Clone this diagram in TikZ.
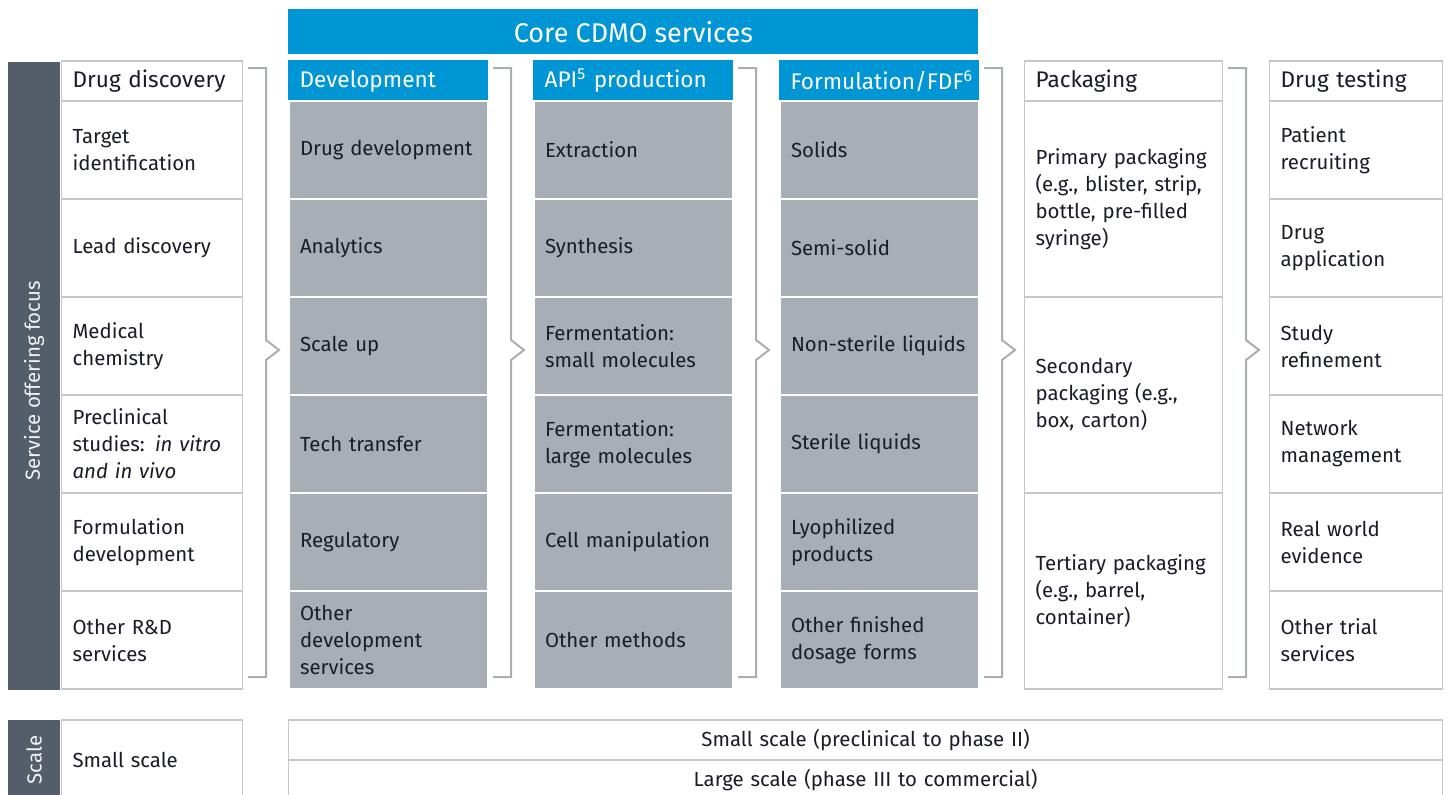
\documentclass[tikz,border=0pt]{standalone}
\usepackage{fontspec}
\setmainfont{Fira Sans}
\usetikzlibrary{positioning}

\definecolor{eyblue}{HTML}{0096D6}
\definecolor{coregray}{HTML}{A8AEB5}
\definecolor{barslate}{HTML}{545E6A}
\definecolor{linegray}{HTML}{C4C8CC}
\definecolor{bracketgray}{HTML}{A9AEB3}
\definecolor{ink}{HTML}{1A1C28}

\hyphenpenalty=10000
\exhyphenpenalty=10000

\newcommand\bodyfont{\fontsize{10.2pt}{13.5pt}\selectfont}
\newcommand\headfont{\fontsize{11.3pt}{14pt}\selectfont}

\tikzset{
  cell/.style={draw=linegray, line width=0.6pt, fill=white, text=ink,
    anchor=west, align=left, inner xsep=5.5pt, inner ysep=0pt,
    minimum height=49pt, font=\bodyfont},
  core cell/.style={cell, fill=coregray, draw=white, line width=1pt},
  head cell/.style={cell, minimum height=20pt, font=\headfont},
  core head/.style={head cell, fill=eyblue, draw=eyblue, text=white},
  sidebar/.style={fill=barslate, text=white!92!barslate, inner sep=0pt,
    minimum height=26pt, rotate=90, font=\bodyfont},
  bracket/.style={draw=bracketgray, line width=1pt},
}

\begin{document}
\begin{tikzpicture}[x=0.5pt, y=-0.5pt]

  \useasboundingbox (0,0) rectangle (1451,794);
  \clip (0,0) rectangle (1451,794);

  % Side bars
  \node[sidebar, minimum width=314pt] (focus) at (34,376) {Service offering focus\hspace*{5pt}};
  \node[sidebar, minimum width=40pt] (scale) at (34,760) {Scale};

  % Core CDMO banner
  \node[fill=eyblue, text=white, anchor=north west, inner sep=0pt,
    minimum width=345pt, minimum height=22.5pt,
    font=\fontsize{13.5pt}{16pt}\selectfont] (core) at (288,9) {Core CDMO services};

  % Headers
  \node[head cell, text width=79.5pt] (disc) at (61,81) {\mbox{Drug discovery}};
  \node[core head, text width=88.5pt] (dev) at (288,81) {Development};
  \node[core head, text width=88.5pt] (api) at (533,81) {\mbox{API\textsuperscript{5} production}};
  \node[core head, text width=88.5pt] (fdf) at (779,81) {Formulation/FDF\textsuperscript{6}};
  \node[head cell, text width=88pt] (pack) at (1024,81) {Packaging};
  \node[head cell, text width=75.5pt] (test) at (1269,81) {\mbox{Drug testing}};

  % Drug discovery
  \foreach \txt [count=\i] in {Target\\identification, Lead discovery,
      Medical\\chemistry, {Preclinical\\studies: \textit{in vitro}\\\textit{and in vivo}},
      Formulation\\development, Other R\&D\\services}
    \node[cell, text width=79.5pt] (disc\i) at (61,52+98*\i) {\txt};

  % Development
  \foreach \txt [count=\i] in {Drug development, Analytics, Scale up,
      Tech transfer, Regulatory, Other\\development\\services}
    \node[core cell, text width=88.5pt] (dev\i) at (288,52+98*\i) {\txt};

  % API production
  \foreach \txt [count=\i] in {Extraction, Synthesis,
      Fermentation:\\small molecules, Fermentation:\\large molecules,
      Cell manipulation, Other methods}
    \node[core cell, text width=88.5pt] (api\i) at (533,52+98*\i) {\txt};

  % Formulation
  \foreach \txt [count=\i] in {Solids, Semi-solid, Non-sterile liquids,
      Sterile liquids, Lyophilized\\products, Other finished\\dosage forms}
    \node[core cell, text width=88.5pt] (fdf\i) at (779,52+98*\i) {\txt};

  % Packaging
  \foreach \txt [count=\i] in {{Primary packaging\\(e.g., blister, strip,\\bottle, pre-filled\\syringe)},
      {Secondary\\packaging (e.g.,\\box, carton)},
      {Tertiary packaging\\(e.g., barrel,\\container)}}
    \node[cell, text width=88pt, minimum height=98pt] (pack\i) at (1024,3+196*\i) {\txt};

  % Drug testing
  \foreach \txt [count=\i] in {Patient\\recruiting, Drug\\application,
      Study\\refinement, Network\\management, Real world\\evidence,
      Other trial\\services}
    \node[cell, text width=75.5pt] (test\i) at (1269,52+98*\i) {\txt};

  % Brackets
  \foreach \xb in {242,487,732,978,1222}
    \draw[bracket] (\xb+6,68) -| (\xb+24,340) -- (\xb+37,350)
      -- (\xb+24,360) |- (\xb+6,677);

  % Scale
  \node[cell, text width=79.5pt, minimum height=40pt] (small) at (61,760) {Small scale};
  \node[cell, align=center, text width=566pt, minimum height=20pt] (smallrange) at (288,740)
    {Small scale (preclinical to phase II)};
  \node[cell, align=center, text width=566pt, minimum height=20pt] (largerange) at (288,780)
    {Large scale (phase III to commercial)};

\end{tikzpicture}
\end{document}
